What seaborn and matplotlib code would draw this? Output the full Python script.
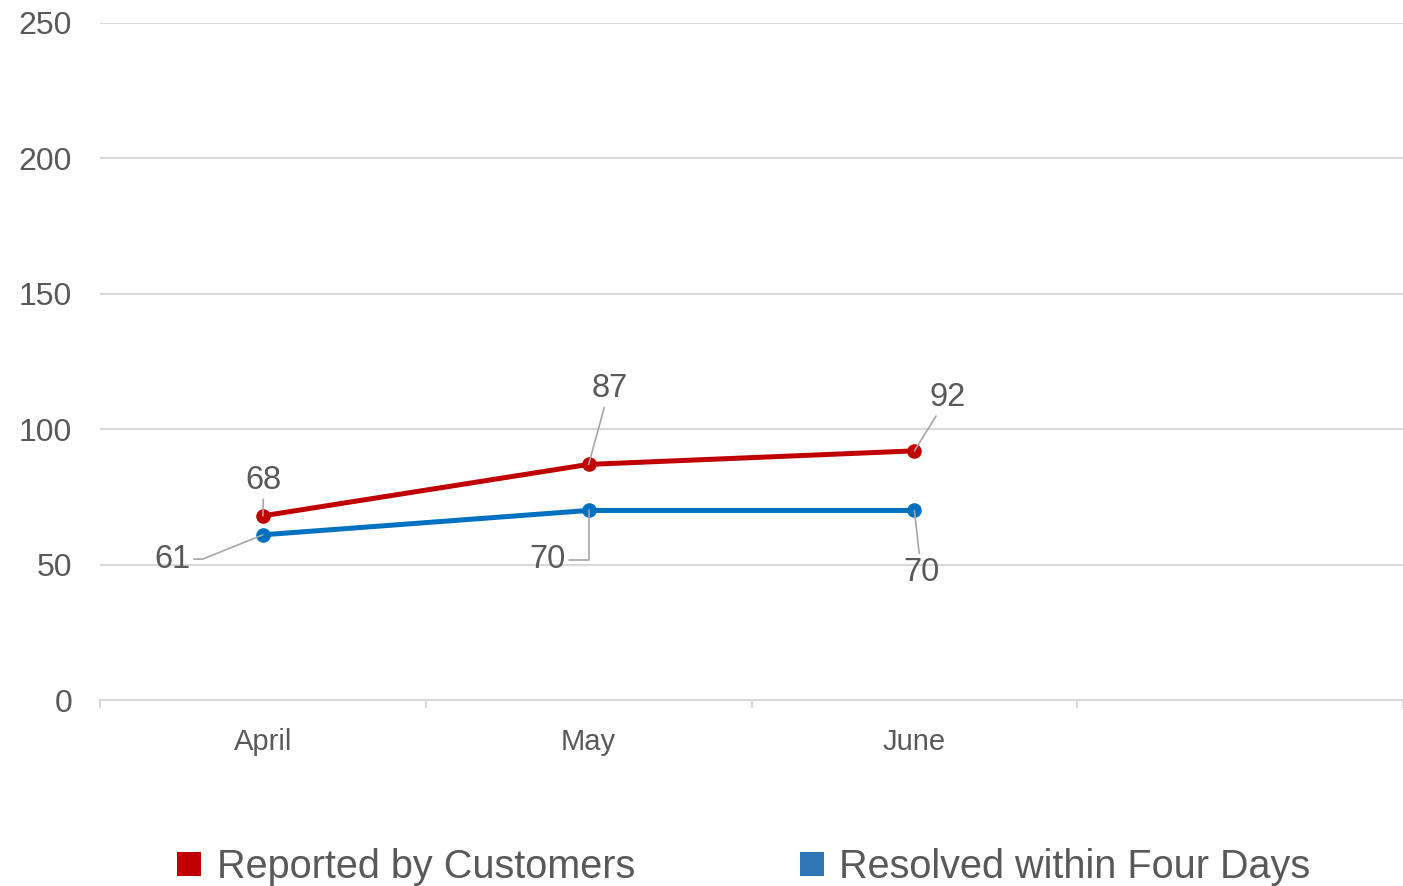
import matplotlib
matplotlib.use("Agg")
import matplotlib.pyplot as plt
from matplotlib.lines import Line2D
import seaborn as sns
import pandas as pd

months = ["April", "May", "June"]
reported = [68, 87, 92]
resolved = [61, 70, 70]
series_names = ["Reported by Customers", "Resolved within Four Days"]
line_colors = ["#C00000", "#0070C0"]
legend_colors = ["#C00000", "#2E75B6"]
y_ticks = [0, 50, 100, 150, 200, 250]

# label placement (offset in points from each point, connector style)
reported_label_pos = [((0.7, 25.5), "arc3"), ((15, 54.5), "arc3"), ((24, 38.5), "arc3")]
resolved_label_pos = [((-65, -17.5), "angle,angleA=0,angleB=202,rad=0"),
                      ((-29.5, -35.5), "angle,angleA=0,angleB=-90,rad=0"),
                      ((5, -44.5), "arc3")]

df = pd.DataFrame({
    "Month": months * 2,
    "Count": reported + resolved,
    "Series": [series_names[0]] * len(months) + [series_names[1]] * len(months),
})

sns.set_theme(style="white")
plt.rcParams["font.family"] = ["Liberation Sans", "DejaVu Sans"]

text_gray = "#595959"
grid_gray = "#D9D9D9"

fig = plt.figure(figsize=(14.03, 8.86), dpi=100)
ax = fig.add_axes([100 / 1403, 186 / 886, 1303 / 1403, 677 / 886])

sns.lineplot(data=df, x="Month", y="Count", hue="Series", hue_order=series_names,
             palette=line_colors, marker="o", markersize=10.5, markeredgewidth=0,
             linewidth=3.6, sort=False, legend=False, ax=ax, zorder=3)

ax.set_xlim(-0.5, 3.5)
ax.set_ylim(0, 250)
ax.set_yticks(y_ticks)
ax.set_yticklabels([str(v) for v in y_ticks])
ax.set_xticks(range(len(months)))
ax.set_xticklabels(months)
ax.set_xticks([-0.5, 0.5, 1.5, 2.5, 3.5], minor=True)
ax.set_xlabel("")
ax.set_ylabel("")

ax.grid(axis="y", color=grid_gray, linewidth=1.5, zorder=0)
ax.grid(axis="x", visible=False)
for side in ["left", "top", "right"]:
    ax.spines[side].set_visible(False)
ax.spines["bottom"].set_color(grid_gray)
ax.spines["bottom"].set_linewidth(1.5)
ax.spines["bottom"].set_zorder(1)

ax.tick_params(axis="y", length=0, pad=20, labelsize=23, labelcolor=text_gray)
ax.tick_params(axis="x", which="major", length=0, pad=20, labelsize=21, labelcolor=text_gray)
ax.tick_params(axis="x", which="minor", length=6, width=1.5, color=grid_gray, bottom=True)

def label_points(values, placements):
    for i, (v, ((dx, dy), style)) in enumerate(zip(values, placements)):
        ax.annotate(str(v), xy=(i, v), xytext=(dx, dy), textcoords="offset points",
                    ha="center", va="center", fontsize=23.5, color=text_gray,
                    arrowprops=dict(arrowstyle="-", color="#A6A6A6", lw=1.2,
                                    shrinkA=0, shrinkB=0, connectionstyle=style),
                    zorder=5)

label_points(reported, reported_label_pos)
label_points(resolved, resolved_label_pos)

handles = [Line2D([], [], marker="s", linestyle="none", markersize=17,
                  markerfacecolor=c, markeredgewidth=0) for c in legend_colors]
fig.legend(handles, series_names, loc="center", bbox_to_anchor=(742 / 1403, 19 / 886),
           ncol=2, frameon=False, fontsize=28.5, labelcolor=text_gray,
           handletextpad=0.3, columnspacing=4.05, handlelength=0.8)

fig.savefig("out.png", dpi=100)
